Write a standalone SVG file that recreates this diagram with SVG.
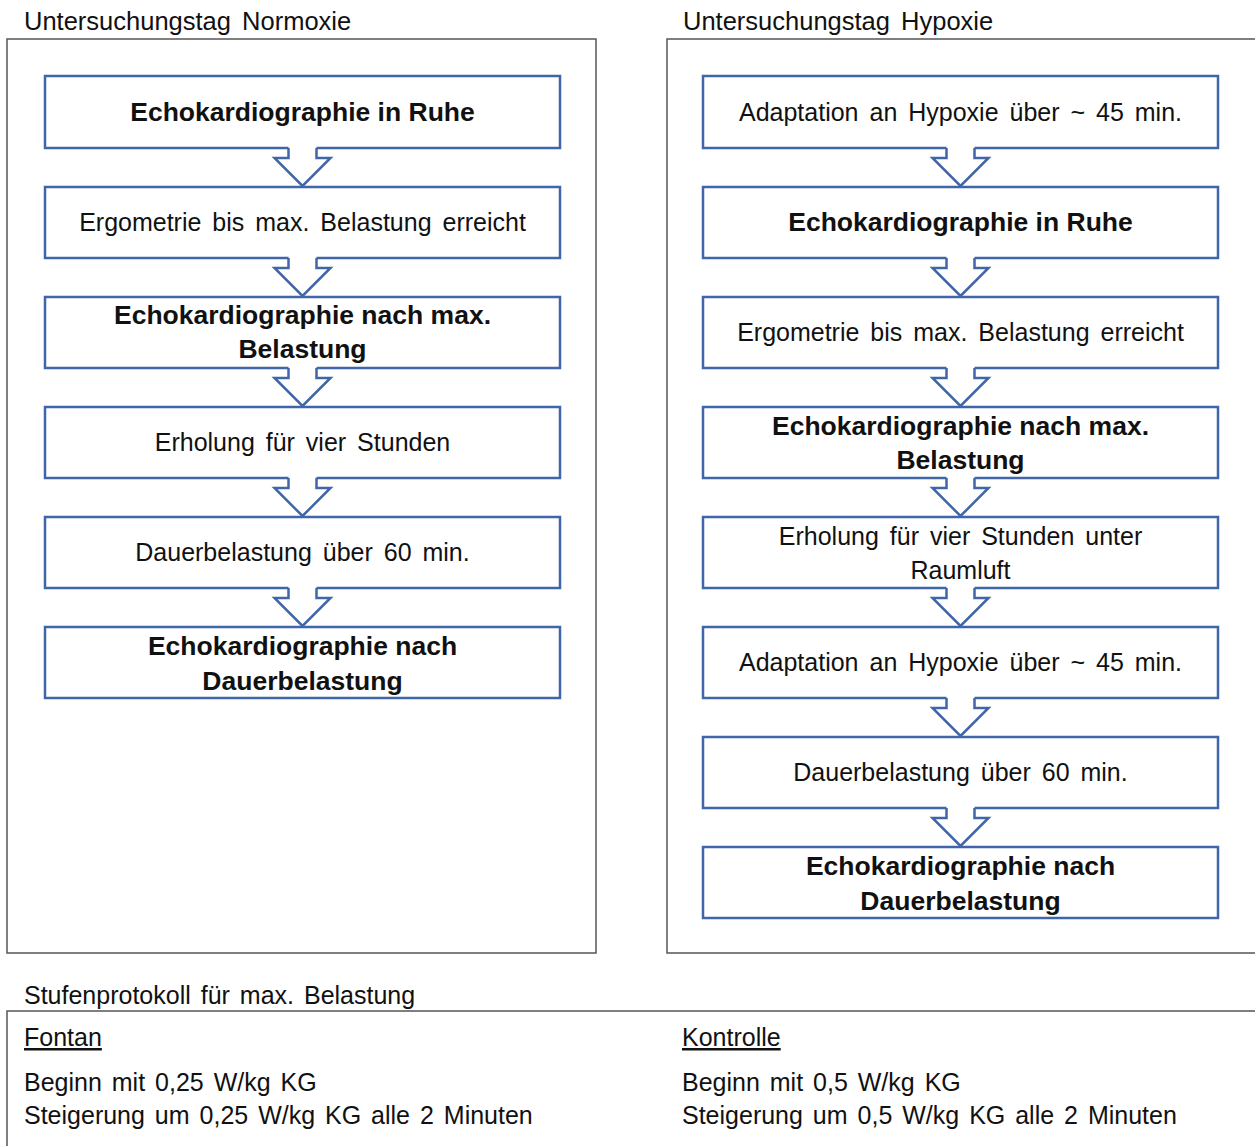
<svg xmlns="http://www.w3.org/2000/svg" xmlns:xlink="http://www.w3.org/1999/xlink" width="1255" height="1146" viewBox="0 0 1255 1146">
<style>
text{font-family:"Liberation Sans",Arial,sans-serif;fill:#111;}
.t{font-size:25.5px;word-spacing:4px;}
.p{font-size:25px;word-spacing:3px;}
.b{font-size:26.5px;font-weight:bold;text-anchor:middle;dominant-baseline:central;}
.r{font-size:25px;text-anchor:middle;dominant-baseline:central;word-spacing:4px;}
.box{fill:#fff;stroke:#3F66A8;stroke-width:2.5;}
.frame{fill:none;stroke:#555;stroke-width:1.5;}
.as{fill:none;stroke:#3F66A8;stroke-width:2.5;stroke-linejoin:miter;}
</style>
<defs>
<g id="arr">
<path d="M-14 -3 V10 H-28 L0 38 L28 10 H14 V-3 Z" fill="#fff"/>
<path class="as" d="M-14 0 V10 H-28 L0 38 L28 10 H14 V0"/>
</g>
</defs>
<rect width="1255" height="1146" fill="#fff"/>

<g id="frames">
<text class="t" x="24" y="30">Untersuchungstag Normoxie</text>
<rect class="frame" x="7" y="39" width="589" height="914"/>
<text class="t" x="683" y="30">Untersuchungstag Hypoxie</text>
<rect class="frame" x="667" y="39" width="600" height="914"/>
<text class="p" x="24" y="1004">Stufenprotokoll für max. Belastung</text>
<path class="frame" d="M7 1148 V1011 H1260"/>
</g>

<g id="left">
<g id="L1"><rect class="box" x="45" y="76" width="515" height="72"/><text class="b" x="302.5" y="112">Echokardiographie in Ruhe</text></g>
<g id="L2"><rect class="box" x="45" y="187" width="515" height="71"/><text class="r" x="302.5" y="222">Ergometrie bis max. Belastung erreicht</text></g>
<g id="L3"><rect class="box" x="45" y="297" width="515" height="71"/><text class="b" x="302.5" y="315">Echokardiographie nach max.</text><text class="b" x="302.5" y="349">Belastung</text></g>
<g id="L4"><rect class="box" x="45" y="407" width="515" height="71"/><text class="r" x="302.5" y="442">Erholung für vier Stunden</text></g>
<g id="L5"><rect class="box" x="45" y="517" width="515" height="71"/><text class="r" x="302.5" y="552">Dauerbelastung über 60 min.</text></g>
<g id="L6"><rect class="box" x="45" y="627" width="515" height="71"/><text class="b" x="302.5" y="646">Echokardiographie nach</text><text class="b" x="302.5" y="681">Dauerbelastung</text></g>
</g>

<g id="right">
<g id="R1"><rect class="box" x="703" y="76" width="515" height="72"/><text class="r" x="960.5" y="112">Adaptation an Hypoxie über ~ 45 min.</text></g>
<g id="R2"><rect class="box" x="703" y="187" width="515" height="71"/><text class="b" x="960.5" y="222">Echokardiographie in Ruhe</text></g>
<g id="R3"><rect class="box" x="703" y="297" width="515" height="71"/><text class="r" x="960.5" y="332">Ergometrie bis max. Belastung erreicht</text></g>
<g id="R4"><rect class="box" x="703" y="407" width="515" height="71"/><text class="b" x="960.5" y="426">Echokardiographie nach max.</text><text class="b" x="960.5" y="460">Belastung</text></g>
<g id="R5"><rect class="box" x="703" y="517" width="515" height="71"/><text class="r" x="960.5" y="536">Erholung für vier Stunden unter</text><text class="r" x="960.5" y="570">Raumluft</text></g>
<g id="R6"><rect class="box" x="703" y="627" width="515" height="71"/><text class="r" x="960.5" y="662">Adaptation an Hypoxie über ~ 45 min.</text></g>
<g id="R7"><rect class="box" x="703" y="737" width="515" height="71"/><text class="r" x="960.5" y="772">Dauerbelastung über 60 min.</text></g>
<g id="R8"><rect class="box" x="703" y="847" width="515" height="71"/><text class="b" x="960.5" y="866">Echokardiographie nach</text><text class="b" x="960.5" y="901">Dauerbelastung</text></g>
</g>

<g id="connectors">
<use xlink:href="#arr" x="302.5" y="148"/>
<use xlink:href="#arr" x="302.5" y="258"/>
<use xlink:href="#arr" x="302.5" y="368"/>
<use xlink:href="#arr" x="302.5" y="478"/>
<use xlink:href="#arr" x="302.5" y="588"/>
<use xlink:href="#arr" x="960.5" y="148"/>
<use xlink:href="#arr" x="960.5" y="258"/>
<use xlink:href="#arr" x="960.5" y="368"/>
<use xlink:href="#arr" x="960.5" y="478"/>
<use xlink:href="#arr" x="960.5" y="588"/>
<use xlink:href="#arr" x="960.5" y="698"/>
<use xlink:href="#arr" x="960.5" y="808"/>
</g>

<g id="protocol">
<text class="p" x="24" y="1046" text-decoration="underline">Fontan</text>
<text class="p" x="24" y="1091">Beginn mit 0,25 W/kg KG</text>
<text class="p" x="24" y="1124">Steigerung um 0,25 W/kg KG alle 2 Minuten</text>
<text class="p" x="682" y="1046" text-decoration="underline">Kontrolle</text>
<text class="p" x="682" y="1091">Beginn mit 0,5 W/kg KG</text>
<text class="p" x="682" y="1124">Steigerung um 0,5 W/kg KG alle 2 Minuten</text>
</g>
</svg>
